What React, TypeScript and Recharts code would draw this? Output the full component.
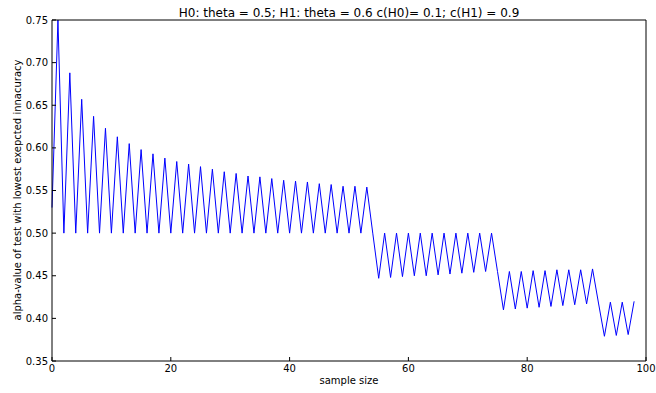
import { LineChart, Line, XAxis, YAxis } from "recharts";

// sample sizes 0..98
const sampleSize = [
  0, 1, 2, 3, 4, 5, 6, 7, 8, 9, 10, 11, 12, 13, 14, 15, 16, 17, 18, 19, 20, 21,
  22, 23, 24, 25, 26, 27, 28, 29, 30, 31, 32, 33, 34, 35, 36, 37, 38, 39, 40,
  41, 42, 43, 44, 45, 46, 47, 48, 49, 50, 51, 52, 53, 54, 55, 56, 57, 58, 59,
  60, 61, 62, 63, 64, 65, 66, 67, 68, 69, 70, 71, 72, 73, 74, 75, 76, 77, 78,
  79, 80, 81, 82, 83, 84, 85, 86, 87, 88, 89, 90, 91, 92, 93, 94, 95, 96, 97,
  98,
];

const alphaValue = [
  0.53, 0.75, 0.5, 0.688, 0.5, 0.657, 0.5, 0.637, 0.5, 0.623, 0.5, 0.613, 0.5,
  0.605, 0.5, 0.598, 0.5, 0.593, 0.5, 0.588, 0.5, 0.584, 0.5, 0.581, 0.5, 0.578,
  0.5, 0.575, 0.5, 0.572, 0.5, 0.57, 0.5, 0.567, 0.5, 0.566, 0.5, 0.564, 0.5,
  0.562, 0.5, 0.561, 0.5, 0.56, 0.5, 0.558, 0.5, 0.557, 0.5, 0.555, 0.5, 0.555,
  0.5, 0.554, 0.5, 0.447, 0.5, 0.448, 0.5, 0.449, 0.5, 0.45, 0.5, 0.45, 0.5,
  0.451, 0.5, 0.452, 0.5, 0.453, 0.5, 0.454, 0.5, 0.455, 0.5, 0.455, 0.41,
  0.455, 0.411, 0.455, 0.412, 0.456, 0.413, 0.456, 0.414, 0.457, 0.415, 0.457,
  0.416, 0.457, 0.417, 0.458, 0.418, 0.379, 0.419, 0.38, 0.419, 0.381, 0.42,
];

const xTicks = [0, 20, 40, 60, 80, 100];
const yTicks = [0.35, 0.4, 0.45, 0.5, 0.55, 0.6, 0.65, 0.7, 0.75];

const title = "H0: theta = 0.5; H1: theta = 0.6 c(H0)= 0.1; c(H1) = 0.9";
const xLabel = "sample size";
const yLabel = "alpha-value of test with lowest exepcted innacuracy";

const data = sampleSize.map((n, i) => ({ n, alpha: alphaValue[i] }));

const font = "'DejaVu Sans', sans-serif";
const tickStyle = { fill: "#000", fontSize: 10, fontFamily: font };
const frame = { stroke: "#000", strokeWidth: 1 };

export default function App() {
  return (
    <div
      style={{
        position: "absolute",
        left: 0,
        top: 0,
        width: 656,
        height: 393,
        background: "#fff",
      }}
    >
      <LineChart
        width={656}
        height={393}
        data={data}
        margin={{ top: 19, right: 9, bottom: 0, left: 0 }}
      >
        <XAxis
          dataKey="n"
          type="number"
          domain={[0, 100]}
          ticks={xTicks}
          height={32}
          tick={tickStyle}
          tickSize={-4}
          tickMargin={8}
          axisLine={frame}
          tickLine={frame}
        />
        {/* top and right spines with inward ticks, matplotlib classic style */}
        <XAxis
          xAxisId="top"
          dataKey="n"
          type="number"
          orientation="top"
          domain={[0, 100]}
          ticks={xTicks}
          height={1}
          tick={false}
          tickSize={-4}
          axisLine={frame}
          tickLine={frame}
        />
        <YAxis
          type="number"
          domain={[0.35, 0.75]}
          ticks={yTicks}
          allowDataOverflow
          width={52}
          tick={tickStyle}
          tickFormatter={(v: number) => v.toFixed(2)}
          tickSize={-4}
          tickMargin={8}
          axisLine={frame}
          tickLine={frame}
        />
        <YAxis
          yAxisId="right"
          orientation="right"
          type="number"
          domain={[0.35, 0.75]}
          ticks={yTicks}
          width={1}
          tick={false}
          tickSize={-4}
          axisLine={frame}
          tickLine={frame}
        />
        <Line
          type="linear"
          dataKey="alpha"
          stroke="#0000ff"
          strokeWidth={1}
          dot={false}
          isAnimationActive={false}
        />
        <Line
          xAxisId="top"
          yAxisId="right"
          type="linear"
          dataKey="alpha"
          stroke="none"
          dot={false}
          legendType="none"
          isAnimationActive={false}
        />
      </LineChart>
      <svg
        width={656}
        height={393}
        style={{ position: "absolute", left: 0, top: 0, pointerEvents: "none" }}
      >
        <text x={349} y={17} textAnchor="middle" fontSize={12} fontFamily={font}>
          {title}
        </text>
        <text x={349} y={384} textAnchor="middle" fontSize={10} fontFamily={font}>
          {xLabel}
        </text>
        <text
          x={0}
          y={0}
          transform="translate(21,190) rotate(-90)"
          textAnchor="middle"
          fontSize={10}
          fontFamily={font}
        >
          {yLabel}
        </text>
      </svg>
    </div>
  );
}
